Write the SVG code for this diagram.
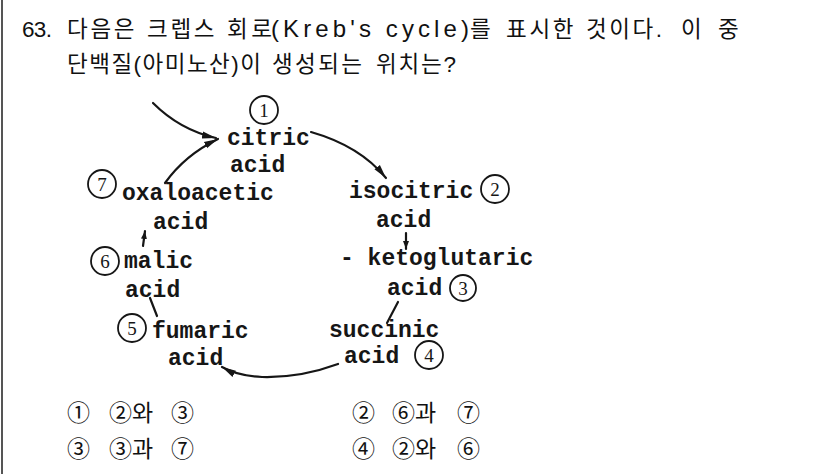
<svg xmlns="http://www.w3.org/2000/svg" width="826" height="474" viewBox="0 0 826 474">
<defs>
<marker id="ah" markerWidth="16" markerHeight="10" refX="14" refY="5" orient="auto" markerUnits="userSpaceOnUse"><path d="M0,1.5 L14,5 L0,8.5 z" fill="#161616"/></marker>
<marker id="ahs" markerWidth="10" markerHeight="8" refX="8" refY="4" orient="auto" markerUnits="userSpaceOnUse"><path d="M0,1 L8,4 L0,7 z" fill="#161616"/></marker>
<style>
.q{font-family:"Liberation Sans","Noto Sans CJK KR",sans-serif;font-size:22.5px;fill:#111}
.lat{font-size:24px}
.k{font-family:"Noto Sans CJK KR",sans-serif;font-size:23px;fill:#111}
.m{font-family:"Liberation Mono","DejaVu Sans Mono",monospace;font-weight:bold;font-size:23px;fill:#161616}
.n{font-family:"Liberation Serif",serif;font-size:19px;fill:#161616;text-anchor:middle}
.c{fill:none;stroke:#161616;stroke-width:1.8}
.ln{fill:none;stroke:#161616;stroke-width:2.2;stroke-linecap:round}
</style>
</defs>
<rect width="826" height="474" fill="#fff"/>
<line x1="2" y1="0" x2="2" y2="474" stroke="#555" stroke-width="2"/>

<g id="question">
<text class="q" y="37" lengthAdjust="spacing"><tspan x="22" textLength="30">63.</tspan><tspan x="67" textLength="67.5">다음은</tspan><tspan x="147" textLength="67.5">크렙스</tspan><tspan x="227" textLength="45">회로</tspan><tspan class="lat" x="271" textLength="198">(Kreb's cycle)</tspan><tspan x="470" textLength="22.5">를</tspan><tspan x="506" textLength="67.5">표시한</tspan><tspan x="586" textLength="76">것이다.</tspan><tspan x="681">이</tspan><tspan x="718">중</tspan></text>
<text class="q" y="72" lengthAdjust="spacing"><tspan x="67" textLength="194">단백질(아미노산)이</tspan><tspan x="272" textLength="90">생성되는</tspan><tspan x="376" textLength="80">위치는?</tspan></text>
</g>

<g id="connectors">
<path class="ln" d="M153,103 Q180,130 216,138" marker-end="url(#ah)"/>
<path class="ln" d="M165,183 Q185,155 218,139" marker-end="url(#ah)"/>
<path class="ln" d="M311,132 Q360,146 386,178" marker-end="url(#ah)"/>
<path class="ln" d="M406,233 L406,249" marker-end="url(#ahs)"/>
<path class="ln" d="M398,302 L387,323"/>
<path class="ln" d="M338,364 Q300,378 262,377 Q238,376 222,367" marker-end="url(#ah)"/>
<path class="ln" d="M157,316 L150,298"/>
<path class="ln" d="M143,246 L145,231" marker-end="url(#ahs)"/>
</g>

<g id="n1"><circle class="c" cx="264" cy="110" r="14"/><text class="n" x="264" y="117">1</text><text class="m" x="227" y="145">citric</text><text class="m" x="230" y="172">acid</text></g>
<g id="n2"><text class="m" x="349" y="198">isocitric</text><text class="m" x="376" y="227">acid</text><circle class="c" cx="495" cy="189" r="14"/><text class="n" x="495" y="196">2</text></g>
<g id="n3"><text class="m" x="340" y="265">- ketoglutaric</text><text class="m" x="387" y="295">acid</text><circle class="c" cx="463" cy="288" r="13"/><text class="n" x="463" y="295">3</text></g>
<g id="n4"><text class="m" x="329" y="337">succinic</text><text class="m" x="344" y="363">acid</text><circle class="c" cx="429" cy="355" r="14"/><text class="n" x="429" y="362">4</text></g>
<g id="n5"><circle class="c" cx="132" cy="328" r="14"/><text class="n" x="132" y="335">5</text><text class="m" x="152" y="338">fumaric</text><text class="m" x="168" y="365">acid</text></g>
<g id="n6"><circle class="c" cx="105" cy="261" r="14"/><text class="n" x="105" y="268">6</text><text class="m" x="124" y="268">malic</text><text class="m" x="125" y="297">acid</text></g>
<g id="n7"><circle class="c" cx="102" cy="184" r="14"/><text class="n" x="102" y="191">7</text><text class="m" x="122" y="200">oxaloacetic</text><text class="m" x="153" y="229">acid</text></g>

<g id="answers">
<text class="k" y="421"><tspan x="67">①</tspan><tspan x="109">②와</tspan><tspan x="171">③</tspan><tspan x="352">②</tspan><tspan x="392">⑥과</tspan><tspan x="457">⑦</tspan></text>
<text class="k" y="457"><tspan x="67">③</tspan><tspan x="109">③과</tspan><tspan x="171">⑦</tspan><tspan x="352">④</tspan><tspan x="392">②와</tspan><tspan x="457">⑥</tspan></text>
</g>
</svg>
